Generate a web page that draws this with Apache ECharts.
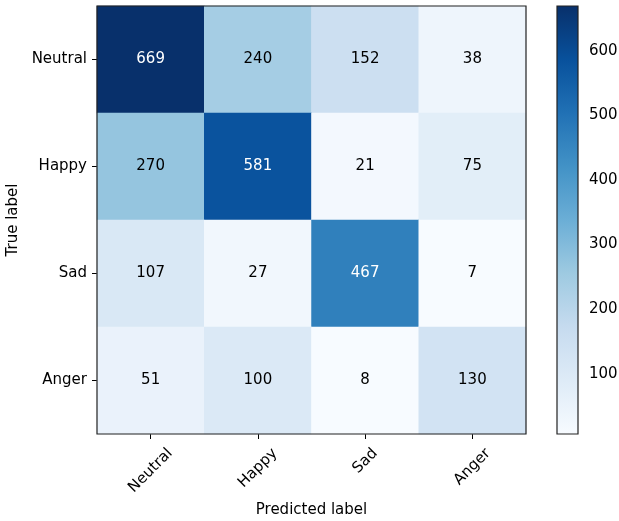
<!DOCTYPE html>
<html>
<head>
<meta charset="utf-8">
<script src="https://cdn.jsdelivr.net/npm/echarts@6/dist/echarts.min.js"></script>
<style>html,body{margin:0;padding:0;background:#fff;}#c{width:619px;height:521px;}</style>
</head>
<body>
<div id="c"></div>
<script>
const predictedLabels = ['Neutral', 'Happy', 'Sad', 'Anger'];
const trueLabels = ['Neutral', 'Happy', 'Sad', 'Anger'];
const matrix = [
  [669, 240, 152, 38],
  [270, 581, 21, 75],
  [107, 27, 467, 7],
  [51, 100, 8, 130]
];
const colorbarTicks = [100, 200, 300, 400, 500, 600];
const blues = ['#f7fbff','#deebf7','#c6dbef','#9ecae1','#6baed6','#4292c6','#2171b5','#08519c','#08306b'];

const flat = matrix.flat();
const vmin = Math.min(...flat), vmax = Math.max(...flat);
const thresh = vmax / 2;
const data = [];
matrix.forEach((row, i) => row.forEach((v, j) => data.push([j, i, v])));

const font = 'DejaVu Sans';
const fs = 15;

// matplotlib-like rotated label placement: bbox top fixed below axis, centered on tick
const measureCtx = document.createElement('canvas').getContext('2d');
measureCtx.font = fs + 'px "' + font + '"';
const baseMargin = 30;
const topGap = 12;
const rich = {};
predictedLabels.forEach((lab, k) => {
  const w = measureCtx.measureText(lab).width;
  const h = fs * 0.95;
  const bboxH = (w + h) * Math.SQRT1_2;
  const desired = topGap + bboxH / 2;
  const d = desired - baseMargin;
  const s = d / Math.SQRT2;
  rich['l' + k] = {
    fontFamily: font, fontSize: fs, color: '#000',
    padding: s >= 0 ? [2 * s, 2 * s, 0, 0] : [0, 0, -2 * s, -2 * s]
  };
});

const chart = echarts.init(document.getElementById('c'));
chart.setOption({
  animation: false,
  textStyle: { fontFamily: font },
  grid: [
    { left: 97, top: 6, width: 429, height: 428, show: true, borderColor: '#222', borderWidth: 1.2, backgroundColor: 'transparent', z: 10, containLabel: false, outerBoundsMode: 'none' },
    { left: 557, top: 6, width: 21, height: 428, show: true, borderColor: '#222', borderWidth: 1.2, z: 10, containLabel: false, outerBoundsMode: 'none' }
  ],
  xAxis: [
    {
      type: 'category', gridIndex: 0, data: predictedLabels, position: 'bottom',
      name: 'Predicted label', nameLocation: 'middle', nameGap: 69,
      nameTextStyle: { fontFamily: font, fontSize: fs, color: '#000' },
      axisLine: { show: false },
      axisTick: { show: true, alignWithLabel: true, length: 5, lineStyle: { color: '#000' } },
      axisLabel: {
        rotate: 45, fontFamily: font, fontSize: fs, color: '#000', margin: baseMargin,
        align: 'center', verticalAlign: 'middle',
        formatter: (v, idx) => '{l' + idx + '|' + v + '}',
        rich: rich
      },
      splitLine: { show: false }
    },
    { type: 'value', gridIndex: 1, min: 0, max: 1, show: false }
  ],
  yAxis: [
    {
      type: 'category', gridIndex: 0, data: trueLabels, inverse: true,
      name: 'True label', nameLocation: 'middle', nameGap: 75, nameRotate: 90,
      nameTextStyle: { fontFamily: font, fontSize: fs, color: '#000' },
      axisLine: { show: false },
      axisTick: { show: true, alignWithLabel: true, length: 5, lineStyle: { color: '#000' } },
      axisLabel: { fontFamily: font, fontSize: fs, color: '#000', margin: 10 },
      splitLine: { show: false }
    },
    {
      type: 'value', gridIndex: 1, min: vmin, max: vmax, position: 'right',
      axisLine: { show: false },
      axisLabel: { fontFamily: font, fontSize: fs, color: '#000', margin: 11,
        customValues: colorbarTicks },
      axisTick: { show: true, length: 5, lineStyle: { color: '#000' }, customValues: colorbarTicks },
      splitLine: { show: false }
    }
  ],
  visualMap: {
    show: false, type: 'continuous', min: vmin, max: vmax, seriesIndex: 0, dimension: 2,
    inRange: { color: blues }
  },
  series: [
    {
      type: 'heatmap', xAxisIndex: 0, yAxisIndex: 0,
      data: data.map(d => ({ value: d, label: { color: d[2] > thresh ? '#fff' : '#000' } })),
      label: {
        show: true, fontFamily: font, fontSize: fs,
        formatter: p => String(p.value[2])
      },
      itemStyle: { borderWidth: 0 },
      emphasis: { disabled: true }
    },
    {
      type: 'custom', xAxisIndex: 1, yAxisIndex: 1, data: [[0, vmin, vmax]],
      renderItem: function (params, api) {
        const p0 = api.coord([0, api.value(1)]);
        const p1 = api.coord([1, api.value(2)]);
        return {
          type: 'rect',
          shape: { x: p0[0], y: p1[1], width: p1[0] - p0[0], height: p0[1] - p1[1] },
          style: {
            fill: new echarts.graphic.LinearGradient(0, 1, 0, 0,
              blues.map((c, k) => ({ offset: k / (blues.length - 1), color: c })))
          }
        };
      },
      silent: true
    }
  ]
});
</script>
</body>
</html>
